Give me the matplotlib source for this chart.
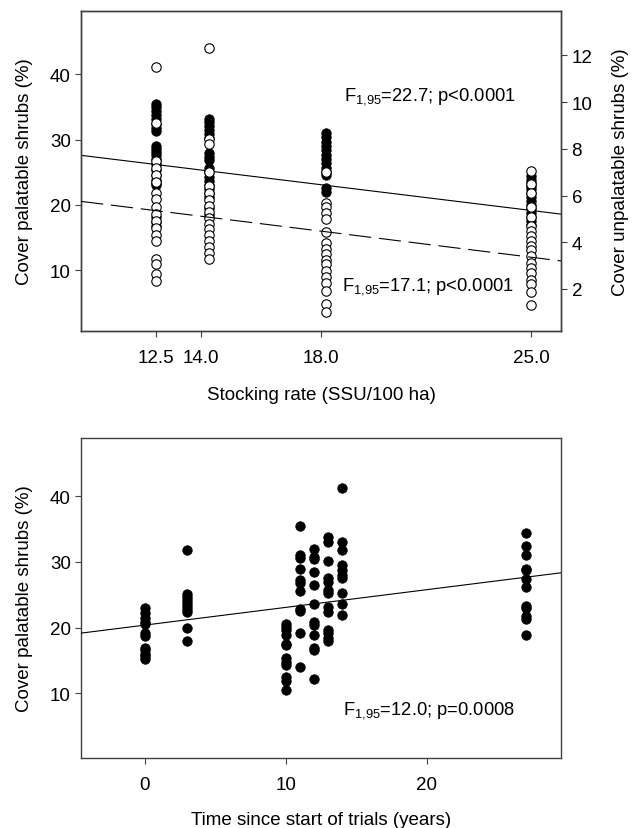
import matplotlib
matplotlib.use('Agg')
import matplotlib.pyplot as plt

plt.rcParams['font.family'] = ['Liberation Sans', 'DejaVu Sans']
plt.rcParams['mathtext.fontset'] = 'custom'
plt.rcParams['mathtext.rm'] = 'Liberation Sans'
plt.rcParams['mathtext.default'] = 'regular'

# stocking rate panel
rate_ticks = [12.5, 14.0, 18.0, 25.0]
rate_labels = ['12.5', '14.0', '18.0', '25.0']
rate_pos = [12.5, 14.27, 18.17, 25.0]   # where the dots sit

# palatable shrubs, left axis (%)
pal_125 = [35.5, 35.0, 34.4, 33.8, 33.2, 32.4, 31.8, 31.4, 29.0, 28.6, 28.1, 27.6,
           27.0, 26.2, 25.4, 24.6, 23.9, 23.4, 23.0, 18.2, 17.4, 16.8]
pal_14 = [33.2, 32.7, 32.1, 31.5, 30.9, 30.3, 27.9, 27.4, 26.9, 25.6, 25.0, 24.3,
          23.6, 23.0, 22.4, 21.8, 21.2, 19.6, 18.4]
pal_18 = [31.0, 30.4, 29.6, 29.0, 28.4, 27.6, 27.0, 26.4, 25.6, 25.0, 24.6, 22.6, 22.0]
pal_25 = [24.4, 23.9, 23.4, 22.9, 22.4, 21.8, 21.2, 20.6, 20.0, 19.4, 18.8, 18.2,
          17.6, 17.0]

# unpalatable shrubs, right axis (%)
unp_125 = [11.5, 9.1, 7.5, 7.2, 6.9, 6.6, 6.1, 5.85, 5.5, 5.2, 4.9, 4.6, 4.3, 4.05,
           3.3, 3.05, 2.65, 2.35]
unp_14 = [12.3, 8.4, 8.2, 7.0, 6.4, 6.1, 5.8, 5.55, 5.3, 5.05, 4.8, 4.55, 4.3, 4.05,
          3.8, 3.55, 3.3]
unp_18 = [7.0, 5.7, 5.5, 5.25, 5.0, 4.45, 3.95, 3.7, 3.5, 3.25, 3.05, 2.75, 2.5,
          2.25, 1.9, 1.35, 1.0]
unp_25 = [7.05, 6.5, 6.1, 5.5, 5.1, 4.7, 4.5, 4.25, 4.05, 3.85, 3.65, 3.4, 3.1, 2.9,
          2.7, 2.4, 2.2, 1.85, 1.3]

# fitted lines (end points)
fit_rate_x = [10.0, 26.0]
fit_pal_y = [27.6, 18.6]
fit_unp_y = [5.75, 3.2]

# time since start panel
years = [0, 3, 10, 11, 12, 13, 14, 27]
cover_by_year = [
    [23.0, 22.2, 21.5, 20.9, 20.5, 19.1, 18.7, 16.9, 16.5, 16.0, 15.6, 15.2],
    [31.8, 25.1, 24.7, 24.2, 23.7, 23.3, 22.8, 22.4, 19.9, 17.9],
    [20.6, 20.1, 19.6, 18.9, 17.5, 17.3, 15.3, 14.8, 14.3, 12.4, 11.9, 10.4],
    [35.5, 31.0, 30.6, 28.9, 27.2, 26.8, 25.5, 22.8, 22.5, 19.2, 14.0],
    [32.0, 30.7, 30.4, 28.5, 26.5, 23.6, 20.8, 20.4, 18.8, 16.9, 16.5, 12.1],
    [33.8, 33.1, 30.2, 27.5, 27.0, 25.8, 25.3, 23.1, 22.3, 19.7, 19.2, 18.4, 17.9],
    [41.3, 33.0, 31.8, 29.5, 28.7, 28.0, 27.5, 25.3, 23.6, 21.9],
    [34.4, 32.4, 31.0, 29.0, 28.7, 27.4, 26.2, 23.3, 23.0, 21.7, 21.3, 18.8],
]
fit_year_x = [-4.5, 29.5]
fit_year_y = [19.15, 28.35]

FS = 13.5
FS_NOTE = 13.2
MS = 46


def style_axes(ax):
    for s in ax.spines.values():
        s.set_color('#404040')
        s.set_linewidth(1.0)
    ax.tick_params(direction='out', length=4, width=0.8, labelsize=FS, color='#404040')


fig = plt.figure(figsize=(6.34, 8.29), dpi=100)

# ---- top panel
ax1 = fig.add_axes([0.128, 0.5995, 0.757, 0.386])
ax2 = ax1.twinx()

pal_cols = [pal_125, pal_14, pal_18, pal_25]
unp_cols = [unp_125, unp_14, unp_18, unp_25]
for xp, vals in zip(rate_pos, pal_cols):
    ax1.scatter([xp] * len(vals), vals, s=MS, c='black', edgecolors='black',
                linewidths=0.6, zorder=3)
ax1.plot(fit_rate_x, fit_pal_y, color='black', lw=0.8, zorder=4)

for xp, vals in zip(rate_pos, unp_cols):
    ax2.scatter([xp] * len(vals), vals, s=MS, c='white', edgecolors='black',
                linewidths=0.8, zorder=3)
ax2.plot(fit_rate_x, fit_unp_y, color='black', lw=0.8, dashes=(20, 7), zorder=4)

ax1.set_xlim(10, 26)
ax1.set_ylim(0.7, 49.7)
ax2.set_ylim(0.2, 13.9)
ax1.set_xticks(rate_ticks)
ax1.set_xticklabels(rate_labels)
ax1.set_yticks([10, 20, 30, 40])
ax2.set_yticks([2, 4, 6, 8, 10, 12])
style_axes(ax1)
style_axes(ax2)
ax1.tick_params(axis='x', pad=9)
ax1.set_xlabel('Stocking rate (SSU/100 ha)', fontsize=FS, labelpad=14)
ax1.set_ylabel('Cover palatable shrubs (%)', fontsize=FS, labelpad=12)
ax2.set_ylabel('Cover unpalatable shrubs (%)', fontsize=FS, labelpad=14)

ax1.text(0.547, 0.735, 'F$_{1{,}95}$=22.7; p<0.0001', transform=ax1.transAxes,
         fontsize=FS_NOTE, va='center', ha='left')
ax1.text(0.543, 0.141, 'F$_{1{,}95}$=17.1; p<0.0001', transform=ax1.transAxes,
         fontsize=FS_NOTE, va='center', ha='left')

# ---- bottom panel
ax3 = fig.add_axes([0.128, 0.0844, 0.757, 0.386])
for yr, vals in zip(years, cover_by_year):
    ax3.scatter([yr] * len(vals), vals, s=MS, c='black', edgecolors='black',
                linewidths=0.6, zorder=3)
ax3.plot(fit_year_x, fit_year_y, color='black', lw=0.8, zorder=4)
ax3.set_xlim(-4.5, 29.5)
ax3.set_ylim(0.1, 48.9)
ax3.set_xticks([0, 10, 20])
ax3.set_yticks([10, 20, 30, 40])
style_axes(ax3)
ax3.tick_params(axis='x', pad=9)
ax3.set_xlabel('Time since start of trials (years)', fontsize=FS, labelpad=13)
ax3.set_ylabel('Cover palatable shrubs (%)', fontsize=FS, labelpad=12)
ax3.text(0.545, 0.151, 'F$_{1{,}95}$=12.0; p=0.0008', transform=ax3.transAxes,
         fontsize=FS_NOTE, va='center', ha='left')

fig.savefig('out.png', dpi=100)
